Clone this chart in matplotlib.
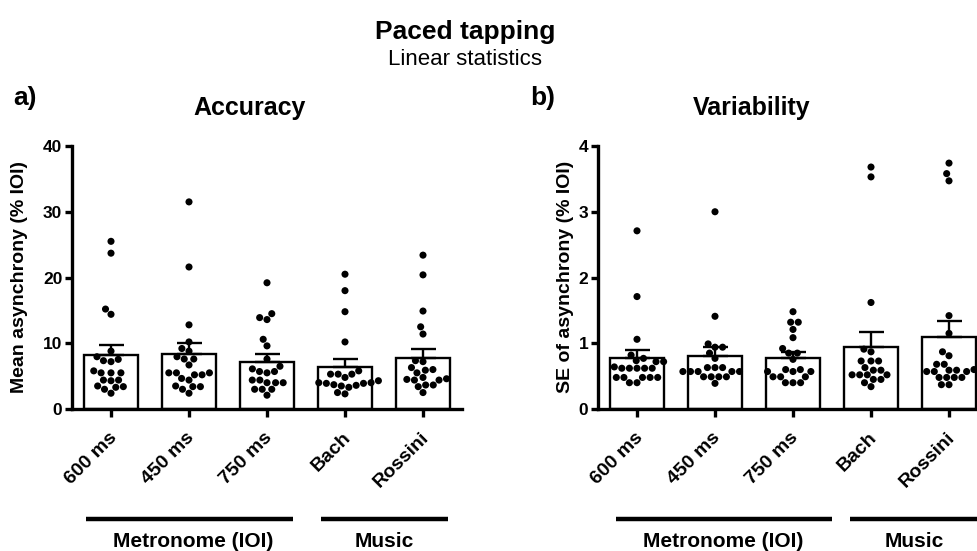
import matplotlib
matplotlib.use('Agg')
import matplotlib.pyplot as plt
import numpy as np
from matplotlib.transforms import blended_transform_factory, ScaledTranslation

plt.rcParams['font.family'] = ['Liberation Sans', 'DejaVu Sans']

# ---------------- data ----------------
categories = ['600 ms', '450 ms', '750 ms', 'Bach', 'Rossini']
group_names = ['Metronome (IOI)', 'Music']

acc_mean = [8.2, 8.4, 7.2, 6.45, 7.7]
acc_sem = [1.5, 1.6, 1.2, 1.15, 1.4]
acc_600 = [25.5, 23.7, 15.2, 14.4, 8.8, 7.95, 7.35, 7.2, 7.55, 5.5, 5.5, 5.5, 5.8,
           4.4, 4.3, 4.4, 3.3, 3.4, 3.0, 3.5, 2.4]
acc_450 = [31.5, 21.6, 12.8, 10.2, 8.8, 9.2, 7.6, 7.6, 7.95, 6.7, 5.2, 5.5, 5.5, 5.2,
           5.5, 4.4, 4.65, 3.4, 3.4, 3.0, 3.5, 2.4]
acc_750 = [19.2, 13.9, 13.6, 14.5, 10.6, 9.6, 7.6, 6.5, 5.7, 5.7, 5.5, 6.1, 4.0, 4.0,
           4.4, 4.0, 4.4, 3.0, 3.0, 3.0, 2.1]
acc_bach = [20.5, 18.0, 14.8, 10.2, 5.8, 5.3, 4.8, 5.3, 5.3, 4.0, 3.9, 3.6, 3.7, 3.9,
            4.0, 4.3, 2.3, 2.5, 3.3, 3.5]
acc_rossini = [23.4, 20.4, 14.9, 12.5, 11.4, 7.2, 7.35, 6.3, 5.5, 5.9, 6.0, 4.4, 4.4,
               4.8, 4.5, 4.6, 3.4, 3.65, 3.65, 2.5]

var_mean = [0.77, 0.81, 0.77, 0.95, 1.09]
var_sem = [0.13, 0.13, 0.10, 0.22, 0.25]
var_600 = [2.71, 1.71, 1.06, 0.82, 0.72, 0.72, 0.735, 0.77, 0.64, 0.62, 0.62, 0.62,
           0.62, 0.62, 0.48, 0.48, 0.48, 0.48, 0.48, 0.40, 0.40]
var_450 = [3.0, 1.41, 0.99, 0.94, 0.94, 0.85, 0.77, 0.63, 0.63, 0.63, 0.57, 0.57,
           0.57, 0.57, 0.57, 0.49, 0.49, 0.49, 0.49, 0.39]
var_750 = [1.48, 1.32, 1.32, 1.21, 1.085, 0.92, 0.85, 0.85, 0.755, 0.60, 0.57, 0.57,
           0.57, 0.60, 0.49, 0.49, 0.49, 0.40, 0.40, 0.40]
var_bach = [3.68, 3.53, 1.62, 0.91, 0.87, 0.73, 0.73, 0.73, 0.63, 0.59, 0.59, 0.52,
            0.52, 0.52, 0.52, 0.40, 0.34, 0.45, 0.45]
var_rossini = [3.74, 3.58, 3.47, 1.42, 1.15, 0.87, 0.81, 0.68, 0.68, 0.60, 0.57,
               0.59, 0.57, 0.57, 0.59, 0.48, 0.48, 0.48, 0.48, 0.37, 0.37]

acc_points = [acc_600, acc_450, acc_750, acc_bach, acc_rossini]
var_points = [var_600, var_450, var_750, var_bach, var_rossini]

# ---------------- figure ----------------
W, H = 978, 551
fig = plt.figure(figsize=(W / 100, H / 100), dpi=100)
fig.patch.set_facecolor('white')

ax_l = fig.add_axes([72 / W, 142 / H, 390 / W, 263 / H])
ax_r = fig.add_axes([598 / W, 142 / H, 390 / W, 263 / H])


def swarm_offsets(values, d_px, px_per_unit):
    ys = np.asarray(values, dtype=float) * px_per_unit
    order = np.argsort(ys)
    placed = []
    offs = np.zeros(len(ys))
    for i in order:
        y = ys[i]
        cands = [0.0]
        for xj, yj in placed:
            dy = y - yj
            if abs(dy) < d_px:
                dx = np.sqrt(d_px ** 2 - dy ** 2)
                cands += [xj + dx, xj - dx]
        cands.sort(key=lambda c: (abs(c), c))
        for c in cands:
            if all((c - xj) ** 2 + (y - yj) ** 2 >= d_px ** 2 - 1e-6 for xj, yj in placed):
                offs[i] = c
                placed.append((c, y))
                break
    return offs


def draw_panel(ax, means, sems, points, ymax, yticks, line_spans, text_x):
    x = np.arange(len(categories))
    ax.set_xlim(-0.5, len(categories) - 0.5)
    ax.set_ylim(0, ymax)
    ax.bar(x, means, width=0.68, color='white', edgecolor='black', linewidth=1.7, zorder=2)
    ax.errorbar(x, means, yerr=[np.zeros(len(sems)), sems], fmt='none', ecolor='black',
                elinewidth=1.7, capsize=9, capthick=1.7, zorder=3)
    bbox = ax.get_position()
    px_x = bbox.width * W / len(categories)
    px_y = bbox.height * H / ymax
    for i, vals in enumerate(points):
        offs = swarm_offsets(vals, 7.6, px_y) / px_x
        ax.scatter(i + offs, vals, s=26, color='black', edgecolors='none', zorder=4,
                   clip_on=False)
    for side in ['top', 'right']:
        ax.spines[side].set_visible(False)
    for side in ['left', 'bottom']:
        ax.spines[side].set_linewidth(2.4)
    ax.set_yticks(yticks)
    ax.set_yticklabels([str(t) for t in yticks], fontsize=12.5, fontweight='bold')
    ax.tick_params(axis='y', length=5, width=2.4, pad=2)
    ax.set_xticks(x)
    ax.set_xticklabels(categories, fontsize=14, fontweight='bold', rotation=45,
                       ha='right', va='center', rotation_mode='anchor')
    ax.tick_params(axis='x', length=6, width=2.4, pad=13)
    shift = ScaledTranslation(3 / 100, 0, fig.dpi_scale_trans)
    for lbl in ax.get_xticklabels():
        lbl.set_transform(lbl.get_transform() + shift)
    tr = blended_transform_factory(ax.transData, fig.transFigure)
    for (a, b), name, tx in zip(line_spans, group_names, text_x):
        ax.plot([a, b], [0.058, 0.058], transform=tr, color='black', lw=3.2,
                clip_on=False, solid_capstyle='butt')
        ax.text(tx, 0.008, name, transform=tr, ha='center', va='baseline',
                fontsize=15, fontweight='bold')


draw_panel(ax_l, acc_mean, acc_sem, acc_points, 40, [0, 10, 20, 30, 40],
           [(-0.32, 2.33), (2.69, 4.32)], [1.05, 3.5])
draw_panel(ax_r, var_mean, var_sem, var_points, 4, [0, 1, 2, 3, 4],
           [(-0.27, 2.5), (2.73, 4.45)], [1.1, 3.55])

fig.text(20 / W, 1 - 277 / H, 'Mean asynchrony (% IOI)', rotation=90, ha='center',
         va='center', fontsize=14, fontweight='bold')
fig.text(565 / W, 1 - 277 / H, 'SE of asynchrony (% IOI)', rotation=90, ha='center',
         va='center', fontsize=14, fontweight='bold')

fig.text(465 / W, 1 - 39 / H, 'Paced tapping', ha='center', va='baseline',
         fontsize=19, fontweight='bold')
fig.text(465 / W, 1 - 65 / H, 'Linear statistics', ha='center', va='baseline',
         fontsize=16)
fig.text(13 / W, 1 - 105 / H, 'a)', ha='left', va='baseline', fontsize=19,
         fontweight='bold')
fig.text(250 / W, 1 - 115 / H, 'Accuracy', ha='center', va='baseline', fontsize=18,
         fontweight='bold')
fig.text(530 / W, 1 - 105 / H, 'b)', ha='left', va='baseline', fontsize=19,
         fontweight='bold')
fig.text(752 / W, 1 - 115 / H, 'Variability', ha='center', va='baseline', fontsize=18,
         fontweight='bold')

fig.savefig('out.png', dpi=100, facecolor='white')
